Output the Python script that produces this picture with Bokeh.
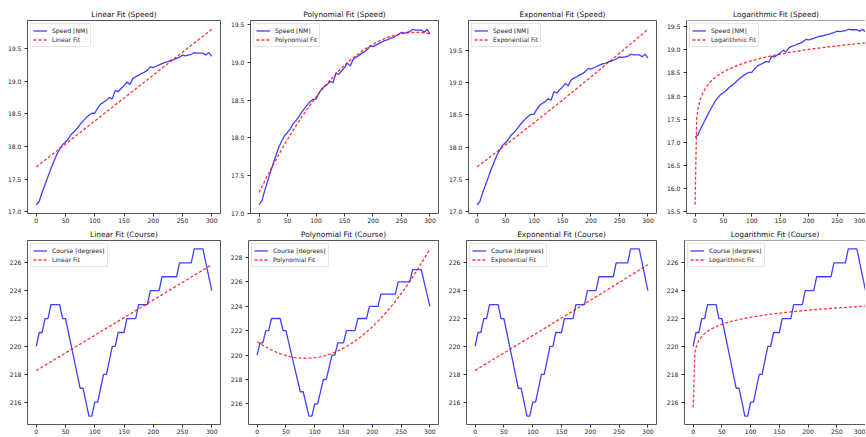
import numpy as np
from bokeh.plotting import figure
from bokeh.layouts import column, row
from bokeh.models import Range1d, SingleIntervalTicker, NumeralTickFormatter, Span
from bokeh.embed import file_html
from bokeh.resources import INLINE

# ---- data ----
time = list(range(0, 301, 5))
speed = [17.11, 17.16, 17.30, 17.42, 17.54, 17.66, 17.77, 17.88, 17.96, 18.03,
         18.07, 18.12, 18.19, 18.23, 18.28, 18.34, 18.39, 18.44, 18.48, 18.51,
         18.51, 18.59, 18.65, 18.68, 18.71, 18.75, 18.73, 18.86, 18.84, 18.89,
         18.93, 18.99, 18.95, 19.04, 19.07, 19.09, 19.12, 19.14, 19.17, 19.22,
         19.21, 19.23, 19.25, 19.27, 19.29, 19.30, 19.32, 19.33, 19.35, 19.37,
         19.40, 19.39, 19.40, 19.41, 19.44, 19.43, 19.43, 19.43, 19.40, 19.44,
         19.38]
course = [220, 221, 221, 222, 222, 223, 223, 223, 223, 222,
          222, 221, 220, 219, 218, 217, 217, 216, 215, 215,
          216, 216, 217, 218, 218, 219, 220, 220, 221, 221,
          221, 222, 222, 222, 222, 223, 223, 223, 223, 224,
          224, 224, 224, 225, 225, 225, 225, 225, 225, 226,
          226, 226, 226, 226, 227, 227, 227, 227, 226, 225,
          224]
# logarithmic fit coefficients (intercept, slope on ln x)
log_fit_speed = [17.15, 0.35]
log_fit_course = [218.73, 0.73]
log_fit_x_start = 0.014

fit_kinds = ["Linear", "Polynomial", "Exponential", "Logarithmic"]
variables = [("Speed", "Speed [NM]", speed, 0.5, "0.0", log_fit_speed),
             ("Course", "Course [degrees]", course, 2, "0", log_fit_course)]

x = np.array(time, dtype=float)
FONT = "DejaVu Sans"


def fit_curve(kind, xs, ys, logc):
    xf = np.linspace(xs.min(), xs.max(), 100)
    if kind == "Linear":
        return xf, np.polyval(np.polyfit(xs, ys, 1), xf)
    if kind == "Polynomial":
        return xf, np.polyval(np.polyfit(xs, ys, 2), xf)
    if kind == "Exponential":
        return xf, np.exp(np.polyval(np.polyfit(xs, np.log(ys), 1), xf))
    xl = np.linspace(log_fit_x_start, xs.max(), 100)
    return xl, logc[0] + logc[1] * np.log(xl)


# layout (page has no margin): frame lefts at ~27, 245, 463, 682
col_w = [227, 218, 218, 202]
col_left = [27, 18, 18, 19]
col_right = [7, 7, 7, 0]
row_h = [226, 210]
row_top = [20, 12]
row_bottom = [13, 10]

rows = []
for ri, (vname, vlabel, vals, yint, yfmt, logc) in enumerate(variables):
    ys = np.array(vals, dtype=float)
    figs = []
    for ci, kind in enumerate(fit_kinds):
        xf, yf = fit_curve(kind, x, ys, logc)
        lo = min(ys.min(), yf.min())
        hi = max(ys.max(), yf.max())
        pad = 0.05 * (hi - lo)
        last = ci == 3
        xend = 300 if last else 315
        p = figure(width=col_w[ci], height=row_h[ri], output_backend="svg",
                   toolbar_location=None, title=f"{kind} Fit ({vname})",
                   x_range=Range1d(-15, xend), y_range=Range1d(lo - pad, hi + pad),
                   min_border_left=col_left[ci], min_border_right=col_right[ci],
                   min_border_top=row_top[ri], min_border_bottom=row_bottom[ri])
        p.background_fill_color = "white"
        p.border_fill_color = "white"
        p.grid.visible = False
        p.title.text_font = FONT
        p.title.text_font_size = "7.4px"
        p.title.text_font_style = "normal"
        p.title.text_color = "#111111"
        p.title.align = "center"
        p.title.standoff = 3
        p.xaxis.ticker = SingleIntervalTicker(interval=50)
        p.yaxis.ticker = SingleIntervalTicker(interval=yint)
        p.yaxis.formatter = NumeralTickFormatter(format=yfmt)
        for ax in (p.xaxis, p.yaxis):
            ax.axis_line_color = None
            ax.major_tick_out = 3
            ax.major_tick_in = 0
            ax.minor_tick_line_color = None
            ax.major_tick_line_color = "#333333"
            ax.major_label_text_font = FONT
            ax.major_label_text_font_size = "6.1px"
            ax.major_label_text_color = "#222222"
        p.xaxis.major_label_standoff = 0
        p.yaxis.major_label_standoff = 2
        if last:
            # right edge is cut off in the reference: no right border
            p.outline_line_color = None
            for ax in (p.xaxis, p.yaxis):
                ax.axis_line_color = "#555555"
                ax.axis_line_width = 1
            p.add_layout(Span(location=hi + pad, dimension="width",
                              line_color="#555555", line_width=1))
        else:
            p.outline_line_color = "#555555"
            p.outline_line_width = 1
        p.line(x, ys, line_color="blue", line_alpha=0.75, line_width=1.3,
               legend_label=vlabel)
        p.line(xf, yf, line_color="red", line_alpha=0.8, line_width=1.3,
               line_dash="3 2", legend_label=f"{kind} Fit")
        lg = p.legend[0]
        lg.location = "top_left"
        lg.margin = 3
        lg.padding = 2
        lg.spacing = 0
        lg.label_height = 9
        lg.glyph_height = 9
        lg.glyph_width = 14
        lg.label_standoff = 5
        lg.label_text_font = FONT
        lg.label_text_font_size = "6.1px"
        lg.label_text_color = "#222222"
        lg.border_line_color = "#cccccc"
        lg.background_fill_alpha = 0.8
        figs.append(p)
    rows.append(row(*figs))

layout = column(*rows)
open("out.html", "w").write(file_html(layout, INLINE))
